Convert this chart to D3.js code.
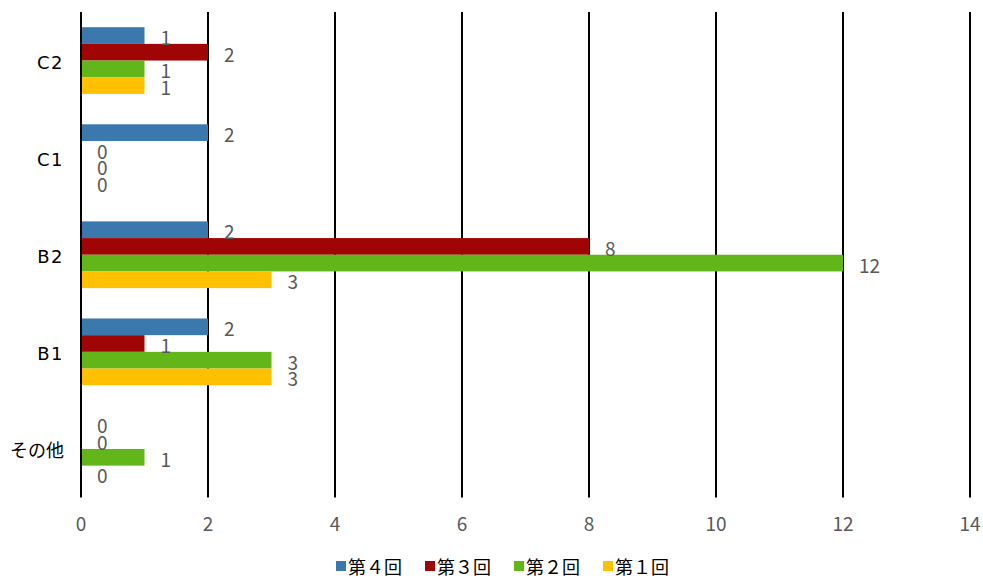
<!DOCTYPE html>
<html><head><meta charset="utf-8">
<script src="https://cdn.jsdelivr.net/npm/d3@7"></script>
<style>body{margin:0;background:#fff;} svg{display:block;font-family:"Noto Sans CJK JP","Noto Sans",sans-serif;}</style>
</head><body>
<svg id="c" width="983" height="579"></svg>
<script>
const categories = ["C2", "C1", "B2", "B1", "その他"];
const seriesNames = ["第４回", "第３回", "第２回", "第１回"];
const s4 = [1, 2, 2, 2, 0];
const s3 = [2, 0, 8, 1, 0];
const s2 = [1, 0, 12, 3, 1];
const s1 = [1, 0, 3, 3, 0];
const seriesValues = [s4, s3, s2, s1];
const colors = ["#3a78ae", "#a00505", "#63b619", "#ffc000"];
const xTicks = [0, 2, 4, 6, 8, 10, 12, 14];

const svg = d3.select("#c");
const x = d3.scaleLinear().domain([0, 14]).range([81, 970]);
const y = d3.scaleBand().domain(categories).range([12, 497.5]).paddingInner(0.313).paddingOuter(0.1565);
const ys = d3.scaleBand().domain(seriesNames).range([0, y.bandwidth()]);

// gridlines
svg.append("g").selectAll("line").data(xTicks).join("line")
  .attr("x1", d => x(d)).attr("x2", d => x(d))
  .attr("y1", 12).attr("y2", 497.5)
  .attr("stroke", "#000").attr("stroke-width", 2);

// bars
const rows = [];
categories.forEach((c, i) => seriesNames.forEach((s, j) => rows.push({c, s, j, v: seriesValues[j][i]})));
svg.append("g").selectAll("rect").data(rows.filter(d => d.v > 0)).join("rect")
  .attr("x", x(0) + 1)
  .attr("y", d => y(d.c) + ys(d.s))
  .attr("width", d => x(d.v) - x(0) - 1)
  .attr("height", ys.bandwidth())
  .attr("fill", d => colors[d.j]);

// value labels
svg.append("g").selectAll("text").data(rows).join("text")
  .attr("x", d => x(d.v) + 16)
  .attr("y", d => y(d.c) + ys(d.s) + ys.bandwidth() / 2 + 1)
  .attr("dominant-baseline", "central")
  .attr("font-size", 19).attr("fill", "#595959")
  .text(d => d.v);

// category labels
const latin = d => /^[A-Z]/.test(d);
svg.append("g").selectAll("text").data(categories).join("text")
  .attr("x", 64).attr("y", d => y(d) + y.bandwidth() / 2 + (latin(d) ? 2 : 0))
  .attr("text-anchor", "end").attr("dominant-baseline", "central")
  .attr("font-family", d => latin(d) ? "'DejaVu Sans', sans-serif" : null)
  .attr("font-size", 18).attr("fill", "#000")
  .attr("letter-spacing", d => latin(d) ? 1.5 : 0)
  .text(d => d);

// x tick labels
svg.append("g").selectAll("text").data(xTicks).join("text")
  .attr("x", d => x(d)).attr("y", 522)
  .attr("text-anchor", "middle").attr("dominant-baseline", "central")
  .attr("font-size", 19).attr("fill", "#595959")
  .text(d => d);

// legend
const lg = svg.append("g").selectAll("g").data(seriesNames).join("g")
  .attr("transform", (d, i) => `translate(${336 + i * 89},566)`);
lg.append("rect").attr("x", 0).attr("y", -5).attr("width", 10).attr("height", 10)
  .attr("fill", (d, i) => colors[i]);
lg.append("text").attr("x", 12).attr("y", 0).attr("dominant-baseline", "central")
  .attr("font-size", 18).attr("fill", "#000").text(d => d);
</script>
</body></html>
